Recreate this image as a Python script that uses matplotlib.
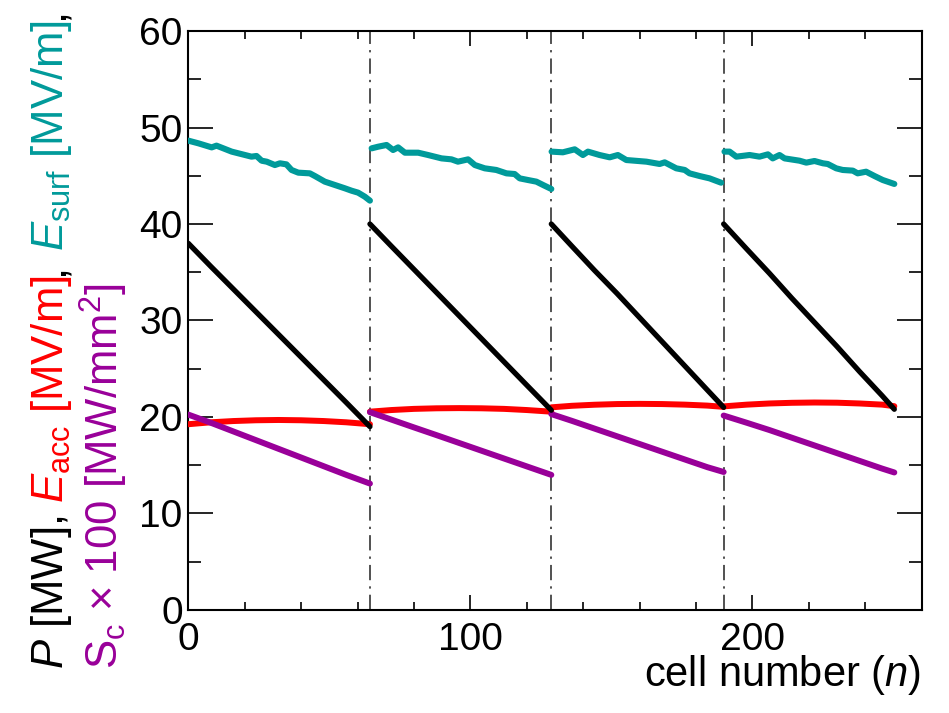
import matplotlib
matplotlib.use("Agg")
import matplotlib.pyplot as plt
from matplotlib.ticker import MultipleLocator

plt.rcParams['font.family'] = ['Liberation Sans', 'DejaVu Sans']
plt.rcParams['mathtext.fontset'] = 'custom'
plt.rcParams['mathtext.rm'] = 'Liberation Sans'
plt.rcParams['mathtext.it'] = 'Liberation Sans:italic'
plt.rcParams['mathtext.bf'] = 'Liberation Sans:bold'

# ---------------- data ----------------
boundaries = [64.4, 128.7, 189.8]

# smooth curves: sample cells per structure
smooth_x = [
    [0, 8, 16, 24, 32, 40, 48, 56, 64.4],
    [64.4, 72, 80, 88, 96, 104, 112, 120, 128.7],
    [128.7, 136, 144, 152, 160, 168, 176, 184, 189.8],
    [189.8, 198, 206, 214, 222, 230, 238, 246, 250.3],
]
power_P = [
    [38.0, 35.6, 33.25, 30.9, 28.55, 26.2, 23.85, 21.5, 19.0],
    [40.0, 37.7, 35.3, 32.9, 30.5, 28.1, 25.7, 23.3, 20.7],
    [40.0, 37.7, 35.2, 32.8, 30.3, 27.8, 25.3, 22.8, 21.0],
    [40.0, 37.4, 34.9, 32.3, 29.8, 27.3, 24.7, 22.2, 20.8],
]
E_acc = [
    [19.25, 19.45, 19.58, 19.66, 19.69, 19.66, 19.58, 19.45, 19.25],
    [20.55, 20.72, 20.84, 20.90, 20.92, 20.90, 20.84, 20.72, 20.55],
    [21.00, 21.16, 21.27, 21.34, 21.36, 21.34, 21.28, 21.18, 21.05],
    [21.10, 21.28, 21.40, 21.47, 21.50, 21.48, 21.40, 21.28, 21.12],
]
S_c100 = [
    [20.25, 19.40, 18.50, 17.60, 16.70, 15.80, 14.90, 14.00, 13.10],
    [20.50, 19.73, 18.92, 18.12, 17.31, 16.50, 15.69, 14.88, 14.00],
    [20.30, 19.60, 18.80, 18.00, 17.20, 16.40, 15.60, 14.80, 14.30],
    [20.15, 19.40, 18.65, 17.85, 17.05, 16.25, 15.45, 14.65, 14.25],
]

# surface field (noisy), read point by point
Esurf_x = [
    [0.0, 3.6, 8.3, 10.0, 15.4, 22.4, 24.2, 26.0, 27.8, 30.7, 32.5, 34.8, 36.6,
     39.0, 43.1, 44.9, 48.4, 52.0, 55.5, 57.9, 60.2, 62.6, 64.4],
    [65.0, 67.3, 70.3, 72.6, 74.4, 76.8, 81.5, 85.0, 89.8, 93.3, 95.6, 99.2,
     101.6, 105.1, 109.2, 112.8, 115.7, 117.5, 120.4, 123.4, 125.8, 128.7],
    [128.8, 132.8, 137.0, 139.9, 141.7, 145.8, 149.4, 152.3, 155.3, 162.4,
     167.1, 168.9, 173.0, 176.0, 177.7, 181.3, 184.8, 188.9],
    [190.1, 191.9, 194.3, 199.0, 202.5, 205.5, 207.2, 209.6, 211.4, 216.7,
     219.1, 222.0, 225.0, 226.7, 229.7, 232.0, 235.6, 237.3, 240.3, 243.3,
     246.2, 250.3],
]
Esurf_y = [
    [48.64, 48.36, 47.94, 48.12, 47.50, 46.98, 47.05, 46.56, 46.46, 46.11,
     46.29, 46.18, 45.60, 45.32, 45.25, 44.97, 44.39, 44.04, 43.70, 43.45,
     43.25, 42.83, 42.42],
    [47.84, 48.01, 48.19, 47.67, 47.94, 47.39, 47.39, 47.15, 46.80, 46.70,
     46.46, 46.70, 46.11, 45.77, 45.60, 45.25, 45.18, 44.73, 44.56, 44.39,
     44.04, 43.63],
    [47.50, 47.43, 47.74, 47.15, 47.50, 47.15, 46.91, 47.15, 46.63, 46.46,
     46.22, 46.39, 45.77, 45.60, 45.25, 44.97, 44.73, 44.28],
    [47.50, 47.50, 46.98, 47.15, 46.98, 47.22, 46.80, 47.15, 46.80, 46.56,
     46.36, 46.53, 46.29, 46.22, 45.77, 45.60, 45.53, 45.25, 45.42, 44.97,
     44.56, 44.15],
]

x_ticks = [0, 100, 200]
y_ticks = [0, 10, 20, 30, 40, 50, 60]

c_P = 'black'
c_acc = '#ff0000'
c_surf = '#009a9a'
c_sc = '#990099'

# ---------------- figure ----------------
fig = plt.figure(figsize=(9.49, 7.13), dpi=100)
ax = fig.add_axes([0.1984, 0.1445, 0.7728, 0.812])

for b in boundaries:
    ax.axvline(b, color='#222222', lw=1.1, dashes=[10, 4, 1.5, 4], zorder=1)

for xs, ys in zip(smooth_x, E_acc):
    ax.plot(xs, ys, color=c_acc, lw=4.3, solid_capstyle='round', zorder=3)
for xs, ys in zip(smooth_x, S_c100):
    ax.plot(xs, ys, color=c_sc, lw=4.3, solid_capstyle='round', zorder=4)
for xs, ys in zip(smooth_x, power_P):
    ax.plot(xs, ys, color=c_P, lw=3.8, solid_capstyle='round', zorder=5)
for xs, ys in zip(Esurf_x, Esurf_y):
    ax.plot(xs, ys, color=c_surf, lw=4.4, solid_capstyle='round',
            solid_joinstyle='round', zorder=6)

ax.set_xlim(0, 260)
ax.set_ylim(0, 60)
ax.set_xticks(x_ticks)
ax.set_yticks(y_ticks)
ax.xaxis.set_minor_locator(MultipleLocator(20))
ax.yaxis.set_minor_locator(MultipleLocator(5))
ax.tick_params(which='both', direction='in', top=True, right=True,
               labelsize=28, colors='black')
ax.tick_params(axis='y', which='major', length=18, width=1.2, pad=4)
ax.tick_params(axis='y', which='minor', length=9.4, width=1.2)
ax.tick_params(axis='x', which='major', length=11, width=1.2, pad=9)
ax.tick_params(axis='x', which='minor', length=5.5, width=1.2)
for sp in ax.spines.values():
    sp.set_linewidth(1.5)

fig.text(0.971, 1 - 686 / 713, 'cell number ($n$)', ha='right',
         va='baseline', fontsize=30)

# multi-coloured rotated y label
fig.canvas.draw()
renderer = fig.canvas.get_renderer()
H = fig.bbox.height
LS = 31.5


def rotated_pieces(xb, y0, pieces):
    y = y0
    for s, c, gap in pieces:
        t = fig.text(xb, y, s, rotation=90, rotation_mode='anchor',
                     ha='left', va='baseline', color=c, fontsize=LS)
        bb = t.get_window_extent(renderer)
        y += (bb.height + gap * LS * fig.dpi / 72) / H


line1 = [
    ('$P$ [MW],', c_P, 0.28),
    (r'$E_{\mathrm{acc}}$ [MV/m]', c_acc, 0.0),
    (',', c_P, 0.28),
    (r'$E_{\mathrm{surf}}$ [MV/m]', c_surf, 0.0),
    (',', c_P, 0.0),
]
line2 = [
    (r'$\mathrm{S}_{\mathrm{c}}$ × 100 [MW/mm$^{2}$]', c_sc, 0.0),
]
rotated_pieces(63 / 949, 1 - 669 / 713, line1)
rotated_pieces(119 / 949, 1 - 669 / 713, line2)

fig.savefig('out.png', dpi=100)
